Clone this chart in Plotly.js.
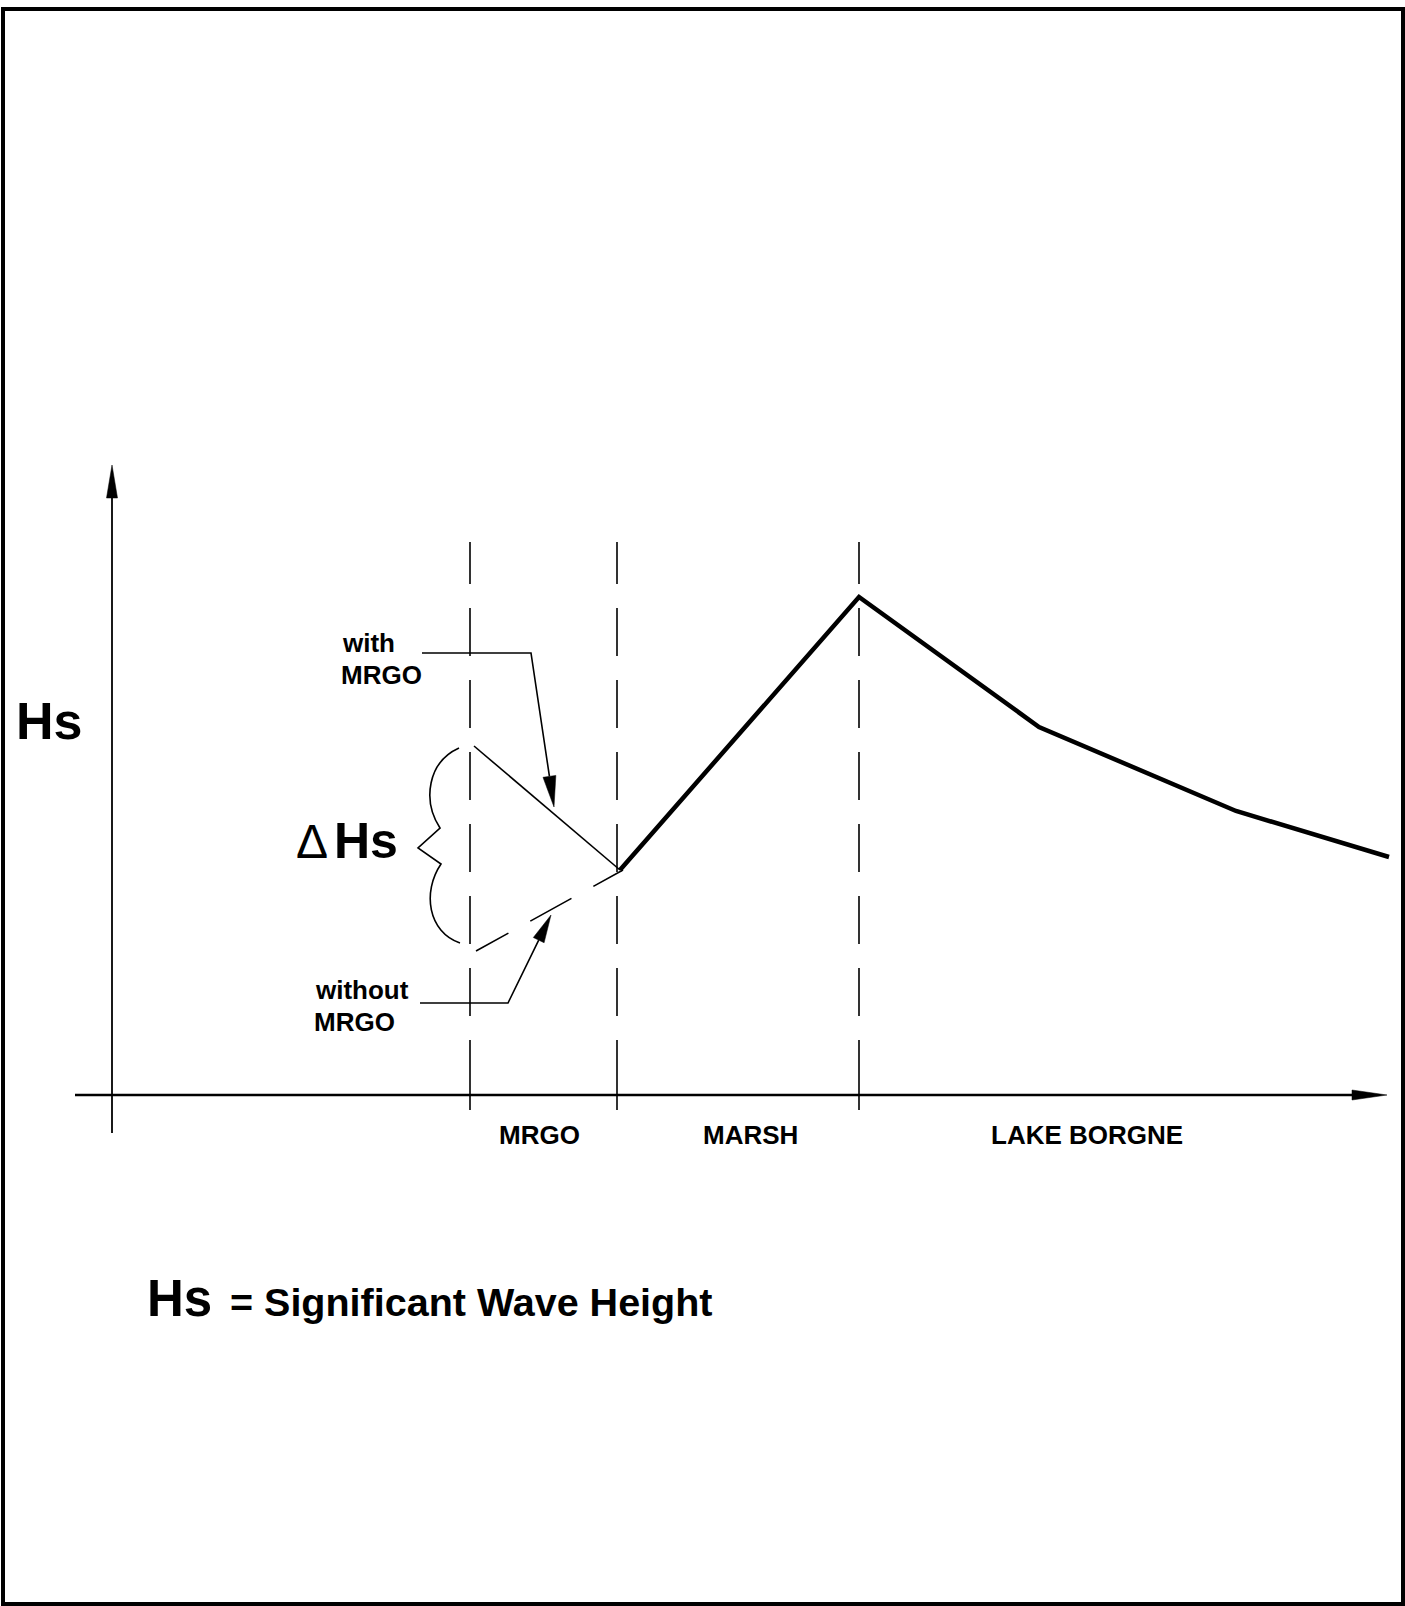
<!DOCTYPE html>
<html><head><meta charset="utf-8">
<script src="https://cdn.plot.ly/plotly-3.0.1.min.js"></script>
<style>html,body{margin:0;padding:0;background:#fff}#chart{width:1405px;height:1606px}</style>
</head><body><div id="chart"></div>
<script>
// ---- Data (x: distance units, y: Hs units) ----
const zoneBoundaries = [35.8, 50.5, 74.7];
const zoneTop = 5.53;
const zoneBottom = -0.15;
const zoneLabels = ["MRGO", "MARSH", "LAKE BORGNE"];
const zoneLabelX = [42.7, 63.8, 97.5];
const zoneLabelY = -0.40;
const withX = [36.2, 50.8];
const withY = [3.49, 2.25];
const withoutX = [36.4, 51.1];
const withoutY = [1.44, 2.25];
const mainX = [50.8, 74.7, 92.7, 112.4, 127.7];
const mainY = [2.25, 4.98, 3.68, 2.84, 2.38];

// ---- page geometry ----
const W = 1405, H = 1606;
const X0 = 112, XS = 10, Y0 = 1095, YS = 100;
const fx = px => (px - X0) / XS;
const fy = py => (Y0 - py) / YS;
const c = (x, y) => fx(x) + ',' + fy(y);
const P = pts => pts.map((p, i) => (i ? 'L' : 'M') + c(p[0], p[1])).join(' ');
const FONT = 'Liberation Sans, Arial, Helvetica, sans-serif';
const K = '#000';

function head(tip, from, len, hw) {
  const dx = tip[0] - from[0], dy = tip[1] - from[1];
  const L = Math.hypot(dx, dy), ux = dx / L, uy = dy / L;
  const bx = tip[0] - ux * len, by = tip[1] - uy * len;
  return {
    base: [bx, by],
    path: P([[bx - uy * hw, by + ux * hw], tip, [bx + uy * hw, by - ux * hw]]) + ' Z'
  };
}

const zoneDash = '42px,24px,48px,24px,48px,24px,48px,24px,48px,24px,48px,24px,48px,24px,70px,10px';
const traces = [];
zoneBoundaries.forEach(xb => traces.push({
  x: [xb, xb], y: [zoneTop, zoneBottom], mode: 'lines', hoverinfo: 'skip',
  line: { color: K, width: 1.6, dash: zoneDash }
}));
traces.push({ x: withX, y: withY, mode: 'lines', hoverinfo: 'skip', line: { color: K, width: 1.6 } });
traces.push({ x: withoutX, y: withoutY, mode: 'lines', hoverinfo: 'skip',
  line: { color: K, width: 1.6, dash: '37px,25px,47px,25px,40px,10px' } });
traces.push({ x: mainX, y: mainY, mode: 'lines', hoverinfo: 'skip', line: { color: K, width: 4.5 } });

const hWith = head([554, 807], [531, 653], 31, 6.5);
const hWithout = head([551, 915], [508, 1003], 28, 6);

const shapes = [
  { type: 'rect', xref: 'paper', yref: 'paper', x0: 3 / W, x1: 1403 / W, y0: 1 - 9 / H, y1: 1 - 1604 / H,
    line: { color: K, width: 4 } },
  { type: 'line', xref: 'x', yref: 'y', x0: fx(75), x1: fx(1354), y0: fy(1095), y1: fy(1095), line: { color: K, width: 2.3 } },
  { type: 'path', xref: 'x', yref: 'y', path: P([[1352, 1090], [1387, 1095], [1352, 1100]]) + ' Z',
    fillcolor: K, line: { color: K, width: 0.5 } },
  { type: 'line', xref: 'x', yref: 'y', x0: fx(112), x1: fx(112), y0: fy(1133), y1: fy(496), line: { color: K, width: 1.8 } },
  { type: 'path', xref: 'x', yref: 'y', path: P([[106.5, 498], [112, 465], [117.5, 498]]) + ' Z',
    fillcolor: K, line: { color: K, width: 0.5 } },
  { type: 'path', xref: 'x', yref: 'y',
    path: 'M' + c(459, 748) + ' C' + c(428, 762) + ' ' + c(422, 800) + ' ' + c(440, 828) +
      ' L' + c(418, 848) + ' L' + c(441, 864) + ' C' + c(422, 892) + ' ' + c(428, 932) + ' ' + c(460, 943),
    line: { color: K, width: 1.6 } },
  { type: 'path', xref: 'x', yref: 'y', path: P([[422, 653], [531, 653], hWith.base]), line: { color: K, width: 1.6 } },
  { type: 'path', xref: 'x', yref: 'y', path: hWith.path, fillcolor: K, line: { color: K, width: 0.5 } },
  { type: 'path', xref: 'x', yref: 'y', path: P([[420, 1003], [508, 1003], hWithout.base]), line: { color: K, width: 1.6 } },
  { type: 'path', xref: 'x', yref: 'y', path: hWithout.path, fillcolor: K, line: { color: K, width: 0.5 } }
];

function txt(text, x, y, size, xanchor, weight, family) {
  return { text: text, x: fx(x), y: fy(y), xref: 'x', yref: 'y', showarrow: false,
    xanchor: xanchor || 'center', yanchor: 'middle', borderpad: 0,
    font: { family: family || FONT, size: size, color: K, weight: weight || 'bold' } };
}
const annotations = [
  txt('Hs', 48.5, 720.5, 52),
  txt('Δ', 312, 841, 48, 'center', 'normal', 'Liberation Sans Narrow, ' + FONT),
  txt('Hs', 366, 841, 50),
  txt('with', 341, 642.5, 26, 'left'),
  txt('MRGO', 340, 675, 26, 'left'),
  txt('without', 314, 990, 26, 'left'),
  txt('MRGO', 313, 1022, 26, 'left'),
  txt('Hs', 146, 1298, 51, 'left'),
  txt('= Significant Wave Height', 229, 1301.5, 39.5, 'left')
];
zoneLabels.forEach((lab, i) => annotations.push({
  text: lab, x: zoneLabelX[i], y: zoneLabelY, xref: 'x', yref: 'y', showarrow: false,
  xanchor: 'center', yanchor: 'middle', borderpad: 0,
  font: { family: FONT, size: 26, color: K, weight: 'bold' }
}));

const layout = {
  width: W, height: H, margin: { l: 0, r: 0, t: 0, b: 0, pad: 0 },
  paper_bgcolor: '#fff', plot_bgcolor: '#fff', showlegend: false,
  xaxis: { range: [fx(0), fx(W)], visible: false, fixedrange: true, showgrid: false, zeroline: false },
  yaxis: { range: [fy(H), fy(0)], visible: false, fixedrange: true, showgrid: false, zeroline: false },
  shapes: shapes, annotations: annotations
};
Plotly.newPlot('chart', traces, layout, { staticPlot: true, displayModeBar: false });
</script></body></html>
